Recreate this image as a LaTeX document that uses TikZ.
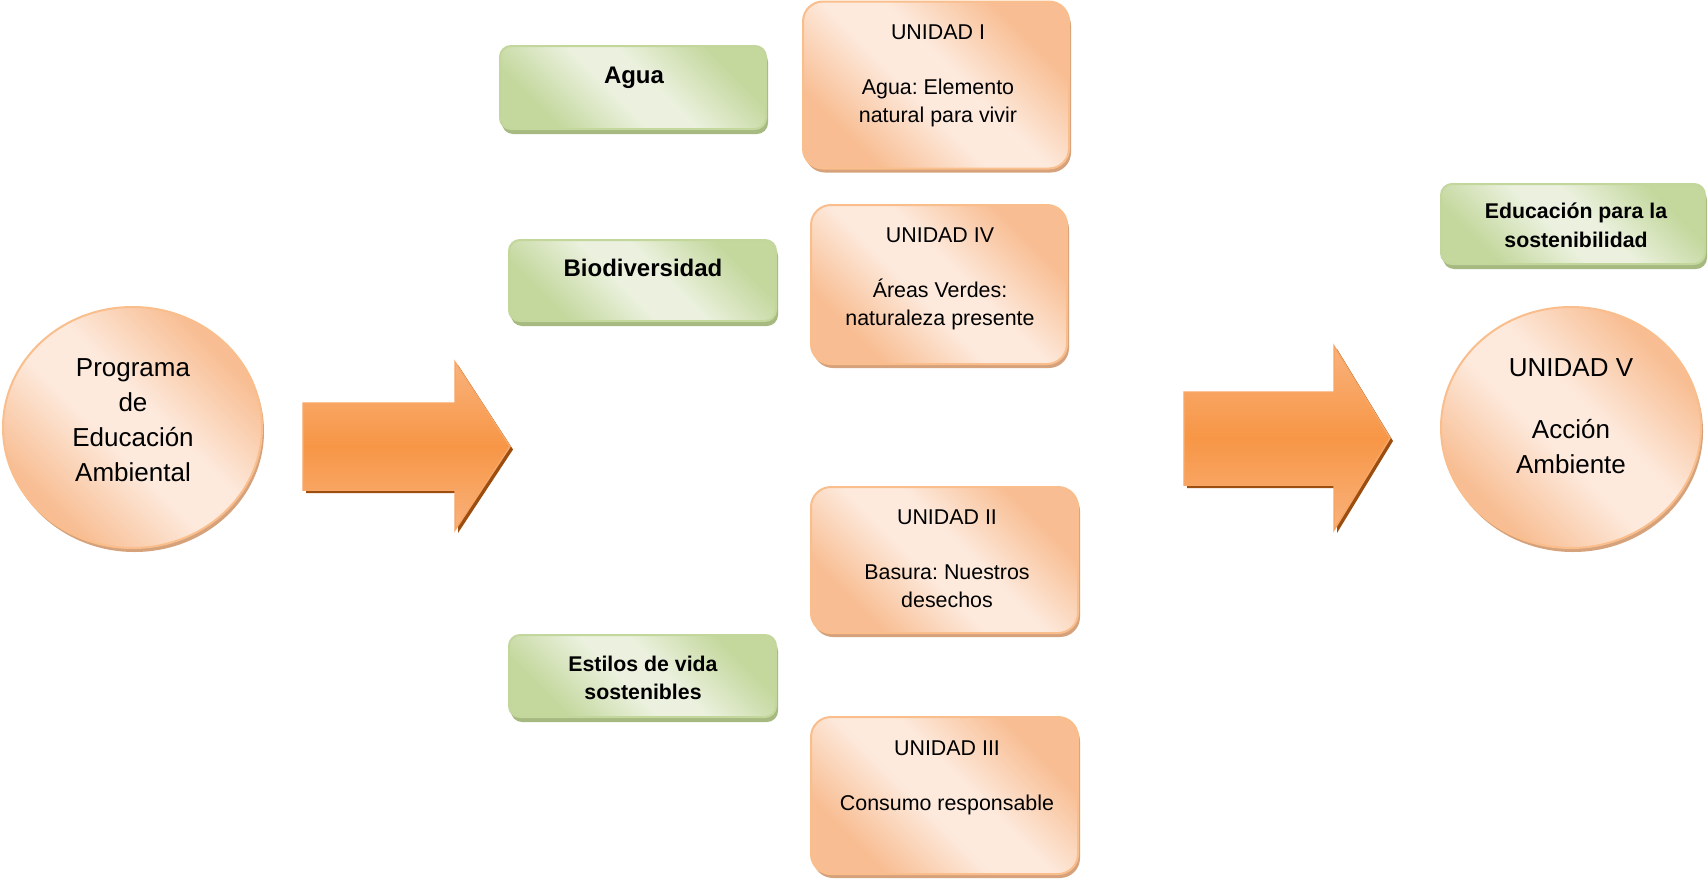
\documentclass[tikz,border=0pt]{standalone}
\usepackage{fontspec}
\setmainfont{Liberation Sans}
\usetikzlibrary{shapes.geometric,shadows}
\definecolor{orD}{RGB}{248,189,146}
\definecolor{orL}{RGB}{253,234,221}
\definecolor{orB}{RGB}{250,190,140}
\definecolor{orS}{RGB}{214,162,124}
\definecolor{grD}{RGB}{196,216,158}
\definecolor{grL}{RGB}{235,241,222}
\definecolor{grB}{RGB}{195,214,155}
\definecolor{grS}{RGB}{166,185,128}
\definecolor{arM}{RGB}{247,150,70}
\definecolor{arL}{RGB}{249,178,124}
\definecolor{arB}{RGB}{249,165,100}
\definecolor{arS}{RGB}{156,78,17}
\pgfdeclareverticalshading{orshade}{100bp}{color(0bp)=(orD); color(27bp)=(orD); color(45bp)=(orL); color(55bp)=(orL); color(73bp)=(orD); color(100bp)=(orD)}
\pgfdeclareverticalshading{grshade}{100bp}{color(0bp)=(grD); color(27bp)=(grD); color(45bp)=(grL); color(55bp)=(grL); color(73bp)=(grD); color(100bp)=(grD)}
\frenchspacing
\begin{document}
\begin{tikzpicture}[x=1pt,y=-1pt,
  orfill/.style={draw=orB, line width=2pt, shading=orshade, shading angle=-45,
    drop shadow={shadow xshift=2pt, shadow yshift=-4pt, fill=orS, opacity=1}, inner sep=0pt, outer sep=0pt},
  orbox/.style={orfill, rectangle, rounded corners=20pt},
  orcirc/.style={orfill, ellipse},
  grbox/.style={draw=grB, line width=2pt, shading=grshade, shading angle=-45,
    rounded corners=11pt, drop shadow={shadow xshift=2pt, shadow yshift=-5pt, fill=grS, opacity=1}, inner sep=0pt, outer sep=0pt},
  bigarrow/.style={draw=arB, line width=1.5pt, top color=arL, bottom color=arL, middle color=arM,
    drop shadow={shadow xshift=3pt, shadow yshift=-3pt, fill=arS, opacity=1}},
  utext/.style={font=\fontsize{21.4}{27.5}\selectfont, align=center, anchor=north, inner sep=0pt},
  ctext/.style={font=\fontsize{26}{35}\selectfont, align=center, anchor=north, inner sep=0pt},
  btext/.style={font=\fontsize{24}{28}\selectfont\bfseries, anchor=base, inner sep=0pt},
  bstext/.style={font=\fontsize{21.3}{28.5}\selectfont\bfseries, align=center, anchor=north, inner sep=0pt}
]
\useasboundingbox (0,0) rectangle (1708,881);
\fill[white] (0,0) rectangle (1708,881);

% left circle
\node[orcirc, minimum width=259pt, minimum height=241pt] (c1) at (132.5,427.5) {};
\node[ctext] (c1t) at (133,352) {Programa\strut\\de\strut\\Educación\strut\\Ambiental\strut};

% arrow 1
\path[bigarrow] (303,403) -- (455,403) -- (455,362) -- (510,446.5) -- (455,530) -- (455,490) -- (303,490) -- cycle;

% green boxes
\node[grbox, minimum width=266pt, minimum height=83pt] (agua) at (633,87.5) {};
\node[btext] (aguat) at (634,83.6) {Agua};
\node[grbox, minimum width=267pt, minimum height=81pt] (bio) at (642.5,280.5) {};
\node[btext] (biot) at (643,276.6) {Biodiversidad};
\node[grbox, minimum width=267pt, minimum height=82pt] (est) at (642.5,676) {};
\node[bstext] (estt) at (643,651) {Estilos de vida\strut\\sostenibles\strut};

% unit boxes
\node[orbox, minimum width=266pt, minimum height=167pt] (u1) at (936,85) {};
\node[utext] (u1t) at (938,20.4) {UNIDAD I\strut\\\strut\\Agua: Elemento\strut\\natural para vivir\strut};
\node[orbox, minimum width=256pt, minimum height=159pt] (u4) at (939,284.5) {};
\node[utext] (u4t) at (940,223.5) {UNIDAD IV\strut\\\strut\\Áreas Verdes:\strut\\naturaleza presente\strut};
\node[orbox, minimum width=267pt, minimum height=146pt] (u2) at (944.5,560) {};
\node[utext] (u2t) at (947,505.5) {UNIDAD II\strut\\\strut\\Basura: Nuestros\strut\\desechos\strut};
\node[orbox, minimum width=267pt, minimum height=157pt] (u3) at (944.5,795.5) {};
\node[utext] (u3t) at (947,736.5) {UNIDAD III\strut\\\strut\\Consumo responsable\strut};

% arrow 2
\path[bigarrow] (1184,392) -- (1334,392) -- (1334,346) -- (1390,438) -- (1334,530) -- (1334,485) -- (1184,485) -- cycle;

% right side
\node[grbox, minimum width=264pt, minimum height=80pt] (edu) at (1573,224) {};
\node[bstext] (edut) at (1576,198.4) {Educación para la\strut\\sostenibilidad\strut};
\node[orcirc, minimum width=260pt, minimum height=241pt] (c5) at (1571,427.5) {};
\node[ctext] (c5t) at (1571,352) {UNIDAD V\strut\\[27pt]Acción\strut\\Ambiente\strut};
\end{tikzpicture}
\end{document}
